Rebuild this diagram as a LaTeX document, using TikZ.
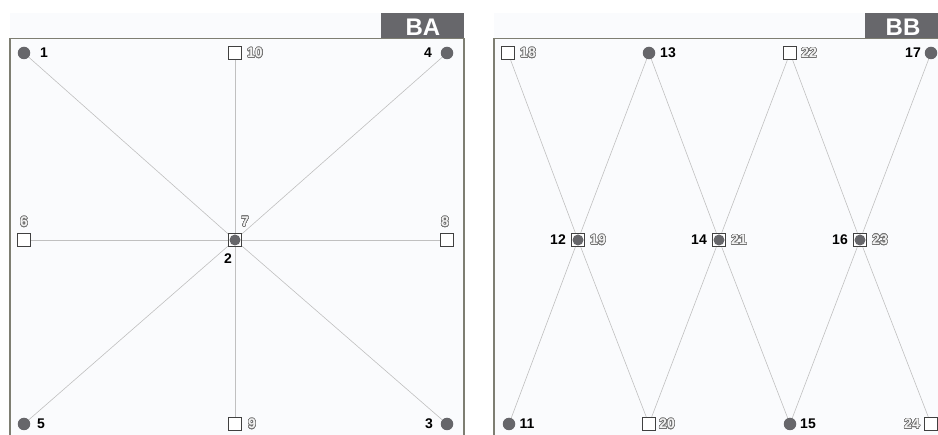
\documentclass[tikz,border=0pt]{standalone}
\usepackage{fontspec}
\setmainfont{Liberation Sans}
\usepackage{contour}
\contourlength{0.55pt}
\contournumber{32}
\usetikzlibrary{backgrounds}
\definecolor{panelbg}{HTML}{FAFBFD}
\definecolor{framec}{HTML}{7E7E72}
\definecolor{dotc}{HTML}{66666A}
\definecolor{boxc}{HTML}{67676B}
\definecolor{edgec}{HTML}{C0C0C0}
\definecolor{glc}{HTML}{747474}
\definecolor{glfill}{HTML}{F2F2F2}
\newcommand{\gl}[1]{\contour{glc}{\textcolor{glfill}{#1}}}
\tikzset{
  dot/.style={circle, fill=dotc, inner sep=0pt, minimum size=12.5pt},
  idot/.style={circle, fill=dotc, inner sep=0pt, minimum size=11pt},
  sq/.style={rectangle, draw=black!75, fill=white, line width=0.9pt, inner sep=0pt, minimum size=13.5pt},
  csq/.style={rectangle, draw=black!75, fill=white, line width=0.9pt, inner sep=0pt, minimum size=13.5pt},
  blab/.style={inner sep=0pt, font=\bfseries\fontsize{14}{14}\selectfont},
  glab/.style={inner sep=0pt, font=\bfseries\fontsize{14}{14}\selectfont},
  tag/.style={inner sep=0pt, text=white, font=\bfseries\fontsize{24}{24}\selectfont},
  edge/.style={draw=edgec, line width=0.6pt},
  frame/.style={draw=framec, line width=1.2pt}
}
\begin{document}
\begin{tikzpicture}[x=1pt,y=-1pt]
\useasboundingbox (0,0) rectangle (938,435);
\begin{scope}[on background layer]
\fill[white] (0,0) rectangle (938,435);
\fill[panelbg] (10,13) rectangle (464,440);
\fill[panelbg] (494,13) rectangle (945,440);
\end{scope}
\draw[frame] (10,440) -- (10,38.5) -- (464,38.5) -- (464,440);
\draw[frame] (494,440) -- (494,38.5) -- (945,38.5);
\fill[boxc] (381,13) rectangle (464,38);
\fill[boxc] (865,13) rectangle (945,38);
\node[tag] (tBA) at (423,27) {BA};
\node[tag] (tBB) at (903,27) {BB};

% ---- panel BA ----
\node[dot] (n1) at (24,53) {};
\node[sq]  (n10) at (235,53) {};
\node[dot] (n4) at (447,53) {};
\node[sq]  (n6) at (24,240) {};
\node[csq] (c2) at (235,240) {};
\node[idot] (n2) at (235,240) {};
\node[sq]  (n8) at (447,240) {};
\node[dot] (n5) at (24,424) {};
\node[sq]  (n9) at (235,424) {};
\node[dot] (n3) at (447,424) {};

\node[blab] (l1) at (44,53) {1};
\node[glab] (l10) at (255,53) {\gl{10}};
\node[blab] (l4) at (428,53) {4};
\node[glab] (l6) at (24,222) {\gl{6}};
\node[glab] (l7) at (245,222) {\gl{7}};
\node[blab] (l2) at (228,259) {2};
\node[glab] (l8) at (445,222) {\gl{8}};
\node[blab] (l5) at (41,424) {5};
\node[glab] (l9) at (252,424) {\gl{9}};
\node[blab] (l3) at (429,424) {3};

% ---- panel BB ----
\node[sq]  (n18) at (508,53) {};
\node[dot] (n13) at (649,53) {};
\node[sq]  (n22) at (790,53) {};
\node[dot] (n17) at (931,53) {};
\node[csq] (c12) at (578,240) {};
\node[idot] (n12) at (578,240) {};
\node[csq] (c14) at (719,240) {};
\node[idot] (n14) at (719,240) {};
\node[csq] (c16) at (860,240) {};
\node[idot] (n16) at (860,240) {};
\node[dot] (n11) at (509,424) {};
\node[sq]  (n20) at (649,424) {};
\node[dot] (n15) at (790,424) {};
\node[sq]  (n24) at (931,424) {};

\node[glab] (l18) at (528,53) {\gl{18}};
\node[blab] (l13) at (668,53) {13};
\node[glab] (l22) at (809,53) {\gl{22}};
\node[blab] (l17) at (913,53) {17};
\node[blab] (l12) at (558,240) {12};
\node[glab] (l19) at (598,240) {\gl{19}};
\node[blab] (l14) at (699,240) {14};
\node[glab] (l21) at (739,240) {\gl{21}};
\node[blab] (l16) at (840,240) {16};
\node[glab] (l23) at (880,240) {\gl{23}};
\node[blab] (l11) at (527,424) {11};
\node[glab] (l20) at (667,424) {\gl{20}};
\node[blab] (l15) at (808,424) {15};
\node[glab] (l24) at (912,424) {\gl{24}};

\begin{scope}[on background layer]
\foreach \a in {n1,n10,n4,n6,n8,n5,n9,n3} \draw[edge] (\a) -- (c2);
\draw[edge] (n18) -- (c12);
\draw[edge] (n13) -- (c12);
\draw[edge] (n13) -- (c14);
\draw[edge] (n22) -- (c14);
\draw[edge] (n22) -- (c16);
\draw[edge] (n17) -- (c16);
\draw[edge] (n11) -- (c12);
\draw[edge] (n20) -- (c12);
\draw[edge] (n20) -- (c14);
\draw[edge] (n15) -- (c14);
\draw[edge] (n15) -- (c16);
\draw[edge] (n24) -- (c16);
\end{scope}
\end{tikzpicture}
\end{document}
